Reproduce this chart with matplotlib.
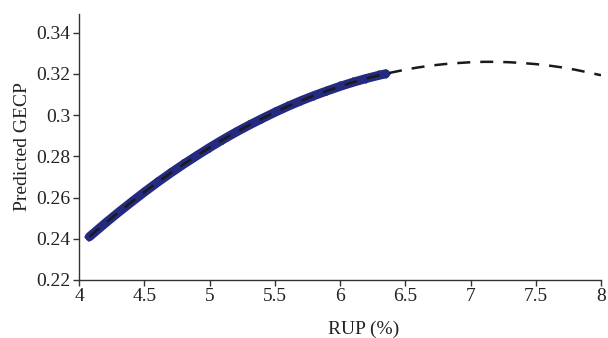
import matplotlib.pyplot as plt

# fitted curve (dashed)
rup = [4.08, 4.2, 4.3, 4.4, 4.5, 4.6, 4.7, 4.8, 4.9, 5.0, 5.1, 5.2, 5.3, 5.4,
       5.5, 5.6, 5.7, 5.8, 5.9, 6.0, 6.1, 6.2, 6.3, 6.35, 6.4, 6.5, 6.6, 6.7,
       6.8, 6.9, 7.0, 7.1, 7.2, 7.3, 7.4, 7.5, 7.6, 7.7, 7.8, 7.9, 8.0]
gecp = [0.2410, 0.2475, 0.2527, 0.2577, 0.2626, 0.2673, 0.2718, 0.2761,
        0.2802, 0.2842, 0.2880, 0.2916, 0.2950, 0.2982, 0.3013, 0.3042,
        0.3069, 0.3094, 0.3117, 0.3139, 0.3159, 0.3177, 0.3193, 0.3200,
        0.3207, 0.3220, 0.3231, 0.3240, 0.3247, 0.3252, 0.3256, 0.3258,
        0.3258, 0.3256, 0.3252, 0.3247, 0.3240, 0.3231, 0.3220, 0.3207,
        0.3193]

# observed range (blue diamonds)
obs_max = 6.35

xticks = [4, 4.5, 5, 5.5, 6, 6.5, 7, 7.5, 8]
yticks = [0.22, 0.24, 0.26, 0.28, 0.3, 0.32, 0.34]

plt.rcParams['font.family'] = ['Liberation Serif', 'DejaVu Serif']

fig = plt.figure(figsize=(6.08, 3.38), dpi=100)
ax = fig.add_axes([0.130, 0.1716, 0.8585, 0.787])

obs_x = [x for x in rup if x <= obs_max]
obs_y = gecp[:len(obs_x)]
ax.plot(obs_x, obs_y, color='#232a80', lw=6.5, marker='D', ms=5,
        mew=0, solid_capstyle='round', zorder=2)
ax.plot(rup, gecp, color='#1a1a1a', lw=1.8, ls=(0, (5.2, 4)), zorder=3)

ax.set_xlim(4, 8)
ax.set_ylim(0.22, 0.349)
ax.set_xticks(xticks)
ax.set_xticklabels([f'{t:g}' for t in xticks])
ax.set_yticks(yticks)
ax.set_yticklabels([f'{t:g}' for t in yticks])

for s in ['top', 'right']:
    ax.spines[s].set_visible(False)
for s in ['left', 'bottom']:
    ax.spines[s].set_color('#333333')
    ax.spines[s].set_linewidth(1.0)
ax.tick_params(direction='out', length=4, width=1, color='#333333',
               labelsize=14, labelcolor='#222222', pad=2)

ax.set_xlabel('RUP (%)', fontsize=14, color='#222222', va='center')
ax.xaxis.set_label_coords(0.546, -0.184)
ax.set_ylabel('Predicted GECP', fontsize=14, color='#222222', labelpad=4)

fig.savefig('out.png', dpi=100)
